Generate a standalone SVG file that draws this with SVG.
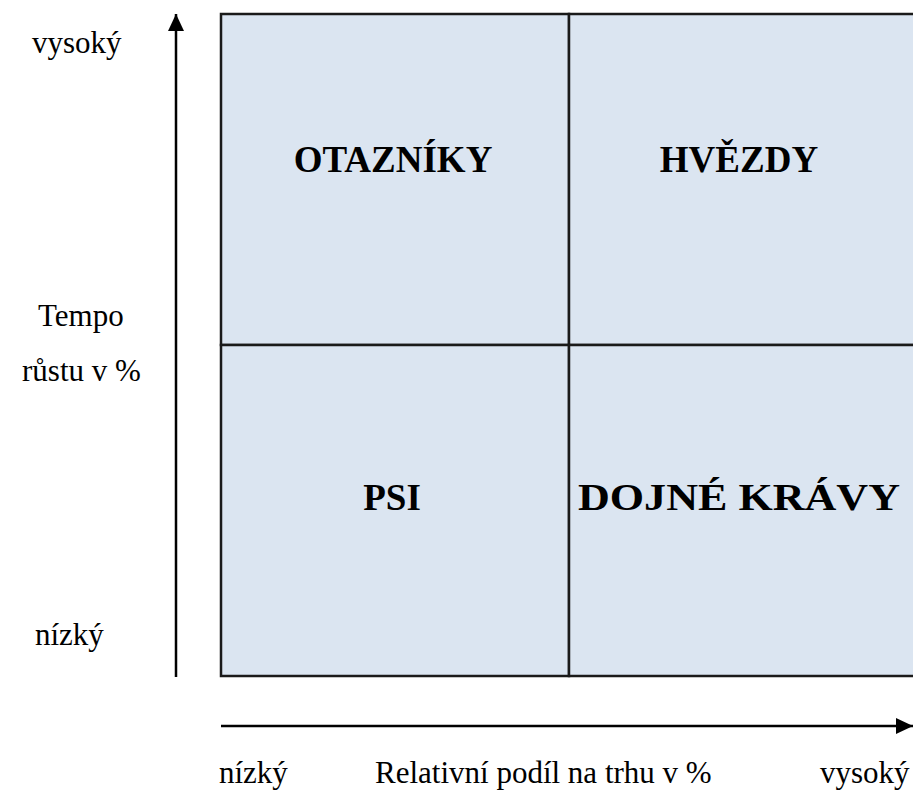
<svg xmlns="http://www.w3.org/2000/svg" width="913" height="794" viewBox="0 0 913 794">
  <style>
    .cell { fill: #dbe5f1; stroke: #1a1a1a; stroke-width: 2.5; }
    .lbl { font-family: "Liberation Serif", "Times New Roman", serif; font-size: 37px; font-weight: bold; fill: #000; text-anchor: middle; }
    .ax { font-family: "Liberation Serif", "Times New Roman", serif; font-size: 31px; fill: #000; }
    .axis { stroke: #000; stroke-width: 2.5; fill: none; }
  </style>
  <defs>
    <marker id="arrow" markerUnits="userSpaceOnUse" markerWidth="17" markerHeight="16" refX="17" refY="8" orient="auto">
      <path d="M0,0 L17,8 L0,16 z" fill="#000"/>
    </marker>
  </defs>
  <rect width="913" height="794" fill="#fff"/>

  <g id="otazniky">
    <rect class="cell" x="221" y="14" width="348" height="331"/>
    <text class="lbl" x="393" y="172">OTAZNÍKY</text>
  </g>
  <g id="hvezdy">
    <rect class="cell" x="569" y="14" width="350" height="331"/>
    <text class="lbl" x="739" y="172">HVĚZDY</text>
  </g>
  <g id="psi">
    <rect class="cell" x="221" y="345" width="348" height="331"/>
    <text class="lbl" x="392" y="510">PSI</text>
  </g>
  <g id="dojne-kravy">
    <rect class="cell" x="569" y="345" width="350" height="331"/>
    <text class="lbl" x="739" y="510" style="font-size:38px" textLength="322" lengthAdjust="spacingAndGlyphs">DOJNÉ KRÁVY</text>
  </g>

  <g id="connectors">
    <line class="axis" x1="176" y1="677" x2="176" y2="14" marker-end="url(#arrow)"/>
    <line class="axis" x1="221" y1="726" x2="913" y2="726" marker-end="url(#arrow)"/>
  </g>

  <g id="axis-labels">
    <text class="ax" x="32" y="53">vysoký</text>
    <text class="ax" x="38" y="326">Tempo</text>
    <text class="ax" x="22" y="381">růstu v %</text>
    <text class="ax" x="35" y="645">nízký</text>
    <text class="ax" x="219" y="783">nízký</text>
    <text class="ax" x="375" y="783">Relativní podíl na trhu v %</text>
    <text class="ax" x="820" y="783">vysoký</text>
  </g>
</svg>
